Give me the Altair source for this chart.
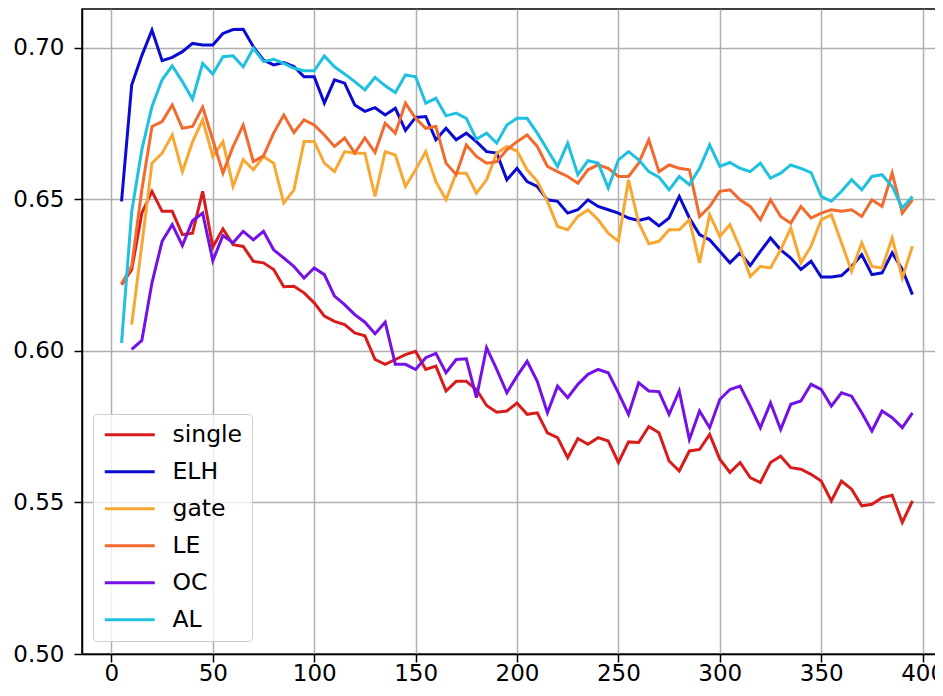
import altair as alt
import pandas as pd

# x positions (training steps)
x_all = list(range(5, 400, 5))      # 5 .. 395
x_from10 = list(range(10, 400, 5))  # 10 .. 395

single = [
    0.6219, 0.6268, 0.6455, 0.6527, 0.6461, 0.6461, 0.6384, 0.6389, 0.6527, 0.6343,
    0.6403, 0.6351, 0.6345, 0.6296, 0.6291, 0.6269, 0.6212, 0.6214, 0.6192, 0.6159,
    0.6115, 0.6098, 0.6087, 0.6060, 0.6050, 0.5972, 0.5956, 0.5972, 0.5988, 0.5999,
    0.5939, 0.5950, 0.5868, 0.5900, 0.5900, 0.5873, 0.5820, 0.5798, 0.5802, 0.5828,
    0.5791, 0.5796, 0.5730, 0.5714, 0.5648, 0.5711, 0.5692, 0.5714, 0.5703, 0.5632,
    0.5700, 0.5698, 0.5751, 0.5730, 0.5637, 0.5604, 0.5670, 0.5675, 0.5725, 0.5643,
    0.5599, 0.5632, 0.5582, 0.5566, 0.5632, 0.5653, 0.5615, 0.5610, 0.5593, 0.5571,
    0.5505, 0.5571, 0.5544, 0.5489, 0.5494, 0.5516, 0.5524, 0.5434, 0.5505,
]

elh = [
    0.6494, 0.6878, 0.6975, 0.7059, 0.6958, 0.6969, 0.6988, 0.7015, 0.7010, 0.7010,
    0.7048, 0.7061, 0.7062, 0.7004, 0.6960, 0.6944, 0.6952, 0.6939, 0.6905, 0.6905,
    0.6818, 0.6895, 0.6884, 0.6812, 0.6791, 0.6803, 0.6779, 0.6801, 0.6728, 0.6771,
    0.6774, 0.6697, 0.6735, 0.6697, 0.6719, 0.6691, 0.6658, 0.6653, 0.6565, 0.6603,
    0.6559, 0.6543, 0.6499, 0.6494, 0.6455, 0.6466, 0.6499, 0.6477, 0.6466, 0.6455,
    0.6439, 0.6431, 0.6439, 0.6413, 0.6439, 0.6510, 0.6439, 0.6384, 0.6367, 0.6329,
    0.6291, 0.6324, 0.6282, 0.6329, 0.6373, 0.6334, 0.6307, 0.6269, 0.6296, 0.6244,
    0.6244, 0.6249, 0.6279, 0.6318, 0.6252, 0.6258, 0.6324, 0.6269, 0.6186,
]

gate = [
    0.6087, 0.6350, 0.6620, 0.6653, 0.6713, 0.6592, 0.6690, 0.6763, 0.6642,
    0.6691, 0.6543, 0.6631, 0.6598, 0.6642, 0.6620, 0.6489, 0.6532, 0.6691, 0.6691,
    0.6620, 0.6592, 0.6658, 0.6653, 0.6653, 0.6510, 0.6658, 0.6647, 0.6543, 0.6598,
    0.6658, 0.6559, 0.6499, 0.6587, 0.6587, 0.6521, 0.6565, 0.6653, 0.6675, 0.6660,
    0.6598, 0.6560, 0.6494, 0.6411, 0.6400, 0.6444, 0.6466, 0.6433, 0.6389, 0.6362,
    0.6565, 0.6423, 0.6354, 0.6362, 0.6400, 0.6400, 0.6433, 0.6291, 0.6450, 0.6378,
    0.6417, 0.6340, 0.6246, 0.6279, 0.6274, 0.6334, 0.6406, 0.6291, 0.6346, 0.6433,
    0.6450, 0.6357, 0.6263, 0.6357, 0.6279, 0.6274, 0.6373, 0.6241, 0.6346,
]

le = [
    0.6222, 0.6280, 0.6532, 0.6741, 0.6757, 0.6812, 0.6735, 0.6741, 0.6805, 0.6697,
    0.6587, 0.6675, 0.6746, 0.6625, 0.6644, 0.6719, 0.6779, 0.6721, 0.6763, 0.6746,
    0.6713, 0.6675, 0.6703, 0.6653, 0.6703, 0.6655, 0.6752, 0.6719, 0.6818, 0.6768,
    0.6735, 0.6741, 0.6620, 0.6582, 0.6680, 0.6642, 0.6620, 0.6625, 0.6664, 0.6691,
    0.6713, 0.6675, 0.6609, 0.6592, 0.6576, 0.6554, 0.6598, 0.6614, 0.6603, 0.6576,
    0.6576, 0.6620, 0.6697, 0.6592, 0.6614, 0.6603, 0.6598, 0.6444, 0.6477, 0.6527,
    0.6532, 0.6499, 0.6477, 0.6433, 0.6499, 0.6444, 0.6422, 0.6477, 0.6439, 0.6455,
    0.6466, 0.6461, 0.6466, 0.6444, 0.6499, 0.6477, 0.6587, 0.6455, 0.6499,
]

oc = [
    0.6005, 0.6035, 0.6225, 0.6362, 0.6417, 0.6348, 0.6430, 0.6455, 0.6298,
    0.6381, 0.6357, 0.6395, 0.6367, 0.6395, 0.6334, 0.6307, 0.6279, 0.6241, 0.6274,
    0.6252, 0.6181, 0.6153, 0.6120, 0.6095, 0.6057, 0.6095, 0.5956, 0.5956, 0.5939,
    0.5978, 0.5992, 0.5928, 0.5972, 0.5974, 0.5846, 0.6011, 0.5939, 0.5862, 0.5917,
    0.5966, 0.5900, 0.5796, 0.5884, 0.5846, 0.5890, 0.5923, 0.5939, 0.5928, 0.5862,
    0.5791, 0.5895, 0.5868, 0.5866, 0.5791, 0.5868, 0.5708, 0.5802, 0.5747, 0.5840,
    0.5873, 0.5884, 0.5818, 0.5747, 0.5829, 0.5741, 0.5824, 0.5835, 0.5890, 0.5873,
    0.5818, 0.5862, 0.5851, 0.5796, 0.5736, 0.5802, 0.5780, 0.5747, 0.5796,
]

al = [
    0.6027, 0.6460, 0.6664, 0.6807, 0.6895, 0.6941, 0.6889, 0.6831, 0.6949, 0.6914,
    0.6971, 0.6974, 0.6938, 0.6999, 0.6955, 0.6963, 0.6949, 0.6933, 0.6925, 0.6925,
    0.6974, 0.6938, 0.6914, 0.6889, 0.6862, 0.6903, 0.6875, 0.6853, 0.6911, 0.6905,
    0.6818, 0.6834, 0.6776, 0.6785, 0.6768, 0.6699, 0.6719, 0.6686, 0.6746, 0.6768,
    0.6768, 0.6719, 0.6664, 0.6609, 0.6686, 0.6582, 0.6628, 0.6620, 0.6538, 0.6631,
    0.6658, 0.6631, 0.6592, 0.6574, 0.6532, 0.6576, 0.6549, 0.6603, 0.6680, 0.6609,
    0.6622, 0.6603, 0.6592, 0.6620, 0.6571, 0.6587, 0.6614, 0.6603, 0.6589, 0.6510,
    0.6494, 0.6527, 0.6565, 0.6532, 0.6576, 0.6582, 0.6543, 0.6472, 0.6510,
]

names = ["single", "ELH", "gate", "LE", "OC", "AL"]
colors = ["#d81c1c", "#0a0ad2", "#f8a832", "#f26a2e", "#7412e6", "#20c0e0"]
x_ticks = [0, 50, 100, 150, 200, 250, 300, 350, 400]
y_ticks = [0.50, 0.55, 0.60, 0.65, 0.70]

series = [
    ("single", x_all, single),
    ("ELH", x_all, elh),
    ("gate", x_from10, gate),
    ("LE", x_all, le),
    ("OC", x_from10, oc),
    ("AL", x_all, al),
]
rows = []
for name, xs, ys in series:
    for xv, yv in zip(xs, ys):
        rows.append({"step": xv, "acc": yv, "model": name})
df = pd.DataFrame(rows)

FONT = "DejaVu Sans"
FS = 23

chart = (
    alt.Chart(df)
    .mark_line(strokeWidth=3, clip=True)
    .encode(
        x=alt.X(
            "step:Q",
            scale=alt.Scale(domain=[-14.5, 414.5], nice=False, zero=False),
            axis=alt.Axis(values=x_ticks, title=None, labelFlush=False, labelPadding=0),
        ),
        y=alt.Y(
            "acc:Q",
            scale=alt.Scale(domain=[0.5, 0.71287], nice=False, zero=False),
            axis=alt.Axis(values=y_ticks, format=".2f", title=None, labelPadding=10),
        ),
        color=alt.Color(
            "model:N",
            scale=alt.Scale(domain=names, range=colors),
            legend=alt.Legend(
                title=None,
                orient="none",
                legendX=11,
                legendY=405,
                symbolType="M-2.5,0H2.5",
                symbolSize=400,
                symbolStrokeWidth=3,
                labelFontSize=23.5,
                labelFont=FONT,
                labelColor="black",
                labelLimit=0,
                padding=9,
                rowPadding=12,
                symbolOffset=16,
                labelOffset=31,
                fillColor="rgba(255,255,255,0.8)",
                strokeColor="#cccccc",
                cornerRadius=4,
            ),
        ),
    )
    .properties(
        width=870,
        height=645,
        autosize=alt.AutoSizeParams(type="none"),
        padding={"left": 74, "top": 1, "right": -17, "bottom": 32},
    )
    .configure_view(stroke="black", strokeWidth=1.5)
    .configure_axis(
        domainColor="black",
        domainWidth=1.5,
        tickColor="black",
        tickWidth=1.5,
        tickSize=8,
        labelFont=FONT,
        labelFontSize=FS,
        labelColor="black",
        gridColor="#b0b0b0",
        gridWidth=1.5,
    )
)

chart.save("out.html", embed_options={"renderer": "svg", "actions": False})
